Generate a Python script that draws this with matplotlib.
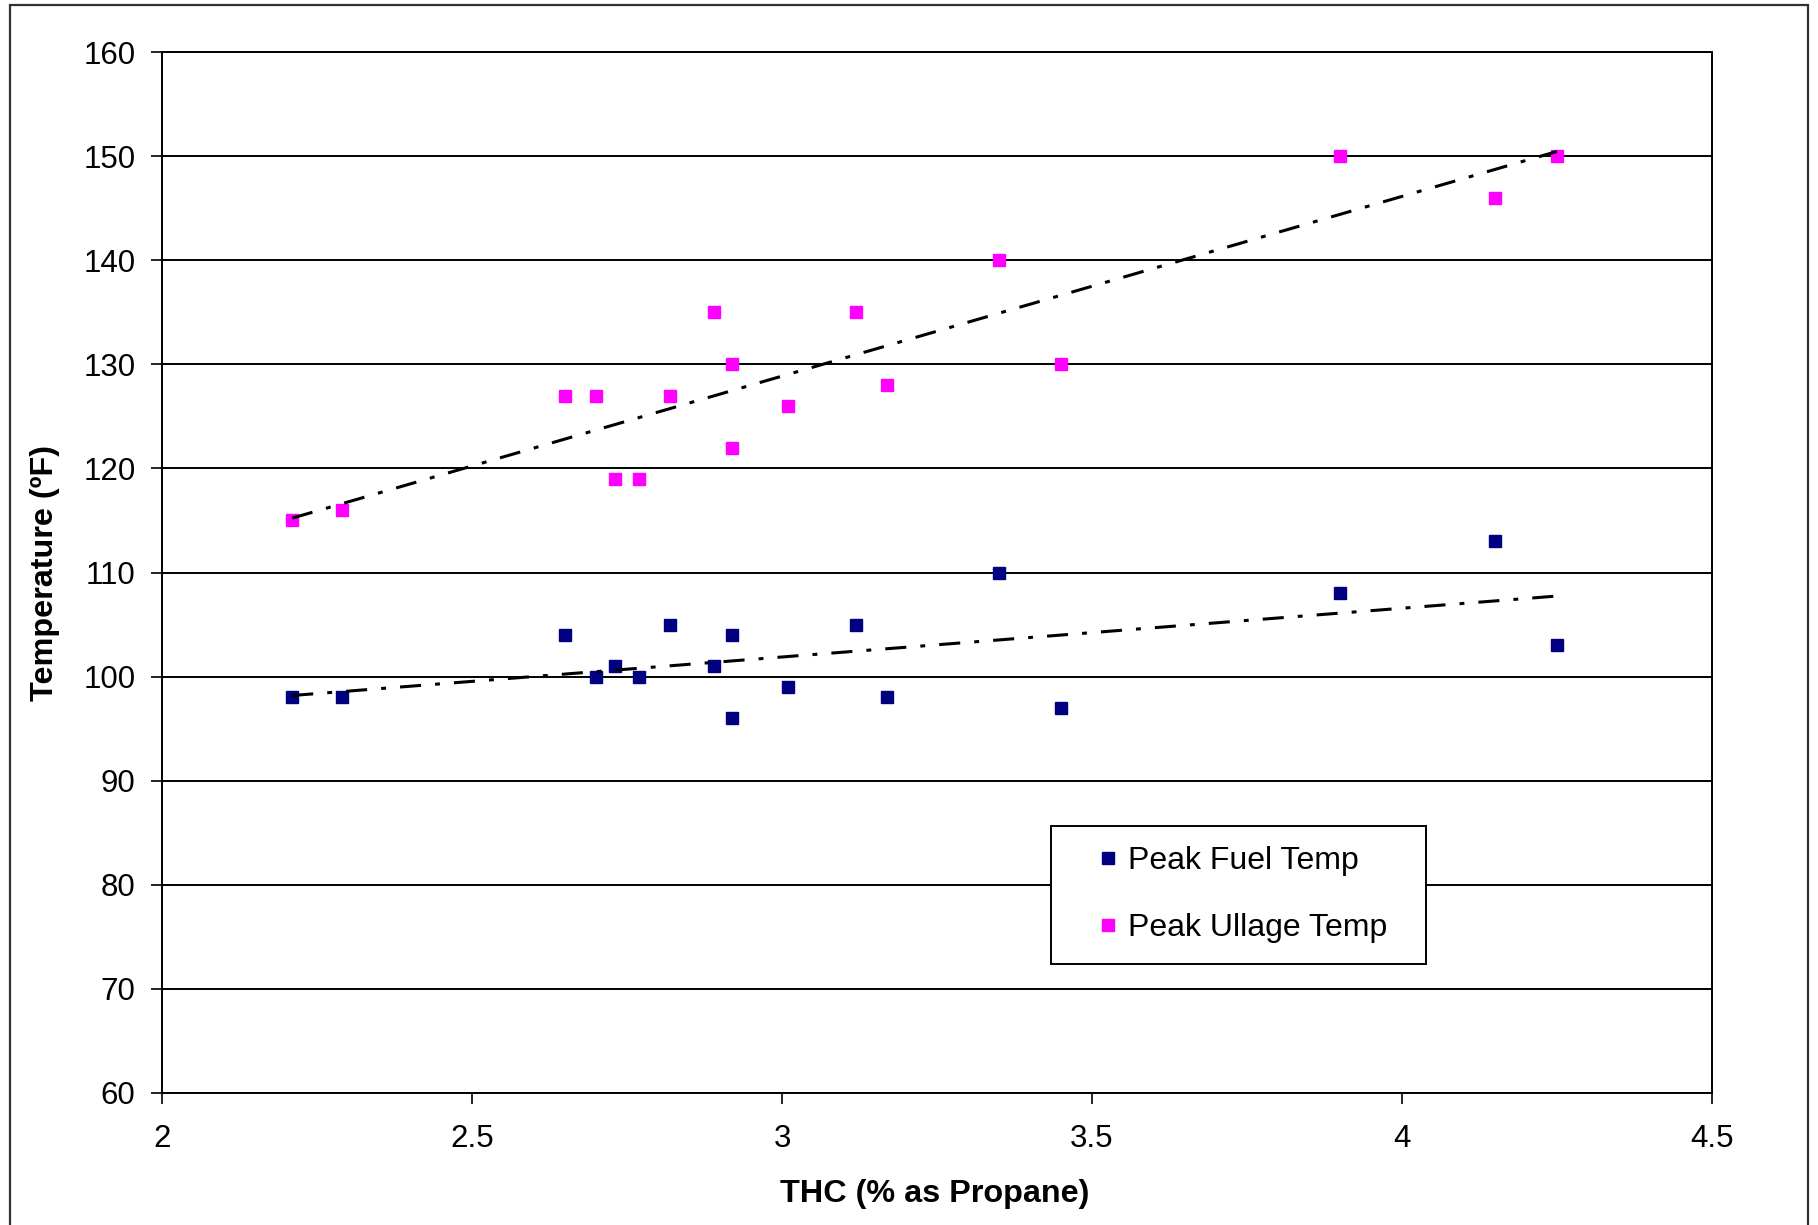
import matplotlib
matplotlib.use("Agg")
import matplotlib.pyplot as plt
import numpy as np
from matplotlib.patches import Rectangle

plt.rcParams['font.family'] = ['Liberation Sans', 'DejaVu Sans']

# data
thc = [2.21, 2.29, 2.65, 2.70, 2.73, 2.77, 2.82, 2.89, 2.92, 2.92,
       3.01, 3.12, 3.17, 3.35, 3.45, 3.90, 4.15, 4.25]
fuel_temp = [98, 98, 104, 100, 101, 100, 105, 101, 104, 96,
             99, 105, 98, 110, 97, 108, 113, 103]
ullage_temp = [115, 116, 127, 127, 119, 119, 127, 135, 130, 122,
               126, 135, 128, 140, 130, 150, 146, 150]

xticks = [2, 2.5, 3, 3.5, 4, 4.5]
xtick_labels = ['2', '2.5', '3', '3.5', '4', '4.5']
yticks = list(range(60, 161, 10))

W, H = 1818, 1225
fig = plt.figure(figsize=(W / 100, H / 100), dpi=100)
ax = fig.add_axes([162 / W, 1 - 1093 / H, 1550 / W, 1041 / H])

# outer chart frame
fig.patches.append(Rectangle((10 / W, -0.01), 1798 / W, 1 - 5 / H + 0.01,
                             transform=fig.transFigure, fill=False,
                             edgecolor='#333333', lw=1.6))

ax.set_xlim(2, 4.5)
ax.set_ylim(60, 160)
ax.set_yticks(yticks)
ax.set_xticks(xticks)
ax.set_xticklabels(xtick_labels)
ax.yaxis.grid(True, color='black', lw=1.4)
ax.set_axisbelow(True)
for s in ax.spines.values():
    s.set_color('black')
    s.set_linewidth(1.4)
ax.tick_params(axis='both', labelsize=22.5, length=8, width=1.2, color='black')
ax.tick_params(axis='y', pad=11)
ax.tick_params(axis='x', pad=14)

ax.plot(thc, fuel_temp, 's', color='#000080', ms=8.5, mec='#000080',
        label='Peak Fuel Temp', zorder=3)
ax.plot(thc, ullage_temp, 's', color='#FF00FF', ms=8.5, mec='#FF00FF',
        label='Peak Ullage Temp  ', zorder=3)

# linear trendlines
xs = np.array([min(thc), max(thc)])
for y in (fuel_temp, ullage_temp):
    k, b = np.polyfit(thc, y, 1)
    ax.plot(xs, k * xs + b, color='black', lw=2.2,
            linestyle=(0, (6.9, 4.6, 1.6, 4.6)), zorder=4)

leg = ax.legend(loc='upper left', bbox_to_anchor=(1051 / W, 1 - 826 / H),
                bbox_transform=fig.transFigure, borderaxespad=0,
                fontsize=23, fancybox=False, framealpha=1, edgecolor='black',
                borderpad=0.64, labelspacing=1.15, handlelength=2.30,
                handletextpad=-0.52, markerscale=1.0)
leg.get_frame().set_linewidth(1.4)

fig.text(45 / W, 1 - 573 / H, 'Temperature (ºF)', rotation=90, ha='center',
         va='center', fontsize=23.3, fontweight='bold')
fig.text(935 / W, 1 - 1194 / H, 'THC (% as Propane)', ha='center',
         va='center', fontsize=23.3, fontweight='bold')

fig.savefig('out.png', dpi=100)
